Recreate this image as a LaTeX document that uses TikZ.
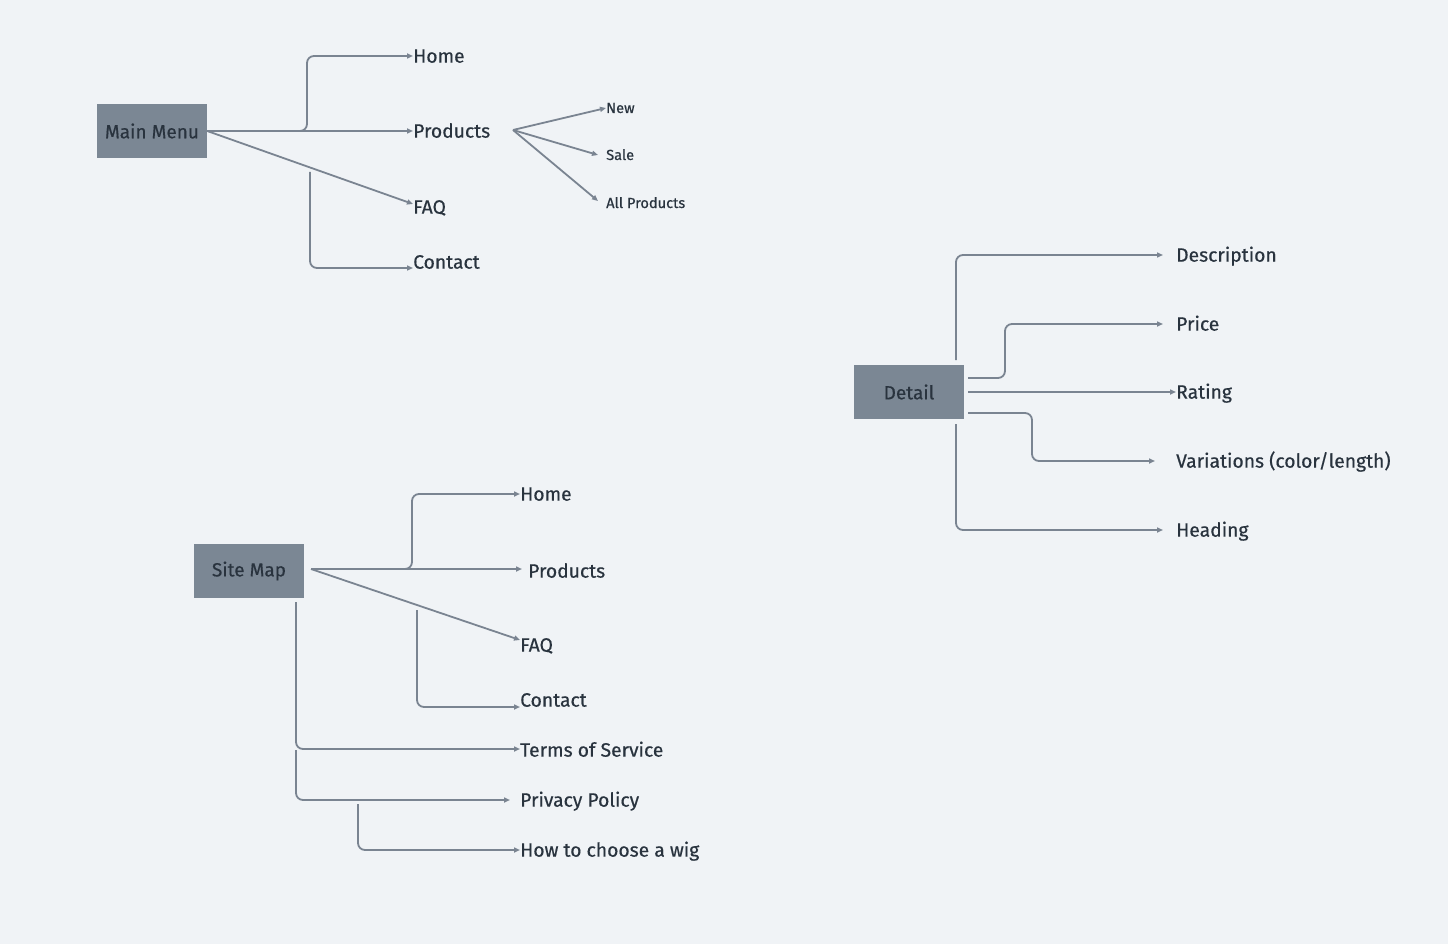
\documentclass[tikz,border=0pt]{standalone}
\usepackage{fontspec}
\setmainfont{Fira Sans}[FakeBold=0.5]
\usetikzlibrary{arrows.meta}
\definecolor{bg}{HTML}{F0F3F6}
\definecolor{boxc}{HTML}{7B8794}
\definecolor{linec}{HTML}{7A8491}
\definecolor{txt}{HTML}{29333E}
\begin{document}
\begin{tikzpicture}[x=1pt,y=-1pt,
 conn/.style={draw=linec, line width=1.8pt, rounded corners=7pt, -{Triangle[length=6pt,width=5pt]}},
 topic/.style={fill=boxc, minimum width=110pt, minimum height=54pt, inner sep=0pt, text=txt, font=\fontsize{19}{21}\selectfont},
 lbl/.style={anchor=west, inner sep=0pt, text=txt, font=\fontsize{19.3}{21}\selectfont, text height=13.3pt, text depth=0pt},
 sublbl/.style={lbl, font=\fontsize{14.6}{16}\selectfont, text height=10pt}]
\fill[bg] (0,0) rectangle (1448,944);
\useasboundingbox (0,0) rectangle (1448,944);

% Main Menu
\node[topic] (mm) at (152,131) {Main Menu};
\node[lbl] (mhome) at (413,56) {Home};
\node[lbl] (mprod) at (413,131) {Products};
\node[lbl] (mfaq) at (413,207) {FAQ};
\node[lbl] (mcont) at (413,262) {Contact};
\draw[conn] (mm.east) -| (307,56) -- (mhome.west);
\draw[conn] (mm.east) -- (mprod.west);
\draw[conn] (mm.east) -- ([yshift=3pt]mfaq.west);
\coordinate (mc0) at (310,172);
\draw[conn] (mc0) |- ([yshift=-6pt]mcont.west);

\coordinate (pf) at (513,130);
\node[sublbl] (pnew) at (606,108) {New};
\node[sublbl] (psale) at (606,155) {Sale};
\node[sublbl] (pall) at (606,203) {All Products};
\draw[conn] (pf) -- (pnew.west);
\draw[conn] (pf) -- ([xshift=-8pt]psale.west);
\draw[conn] (pf) -- ([xshift=-8pt,yshift=2pt]pall.west);

% Detail
\node[topic] (dt) at (909,392) {Detail};
\node[lbl] (ddesc) at (1176,255) {Description};
\node[lbl] (dprice) at (1176,324) {Price};
\node[lbl] (drate) at (1176,392) {Rating};
\node[lbl] (dvar) at (1176,461) {Variations (color/length)};
\node[lbl] (dhead) at (1176,530) {Heading};
\coordinate (d1) at (956,360);
\draw[conn] (d1) |- ([xshift=-13pt]ddesc.west);
\draw[conn] ([xshift=4pt,yshift=14pt]dt.east) -| (1005,324) -- ([xshift=-13pt]dprice.west);
\draw[conn] ([xshift=4pt]dt.east) -- (drate.west);
\draw[conn] ([xshift=4pt,yshift=-21pt]dt.east) -| (1032,461) -- ([xshift=-21pt]dvar.west);
\coordinate (d5) at (956,424);
\draw[conn] (d5) |- ([xshift=-13pt]dhead.west);

% Site Map
\node[topic] (sm) at (249,571) {Site Map};
\node[lbl] (shome) at (520,494) {Home};
\node[lbl] (sprod) at (528,571) {Products};
\node[lbl] (sfaq) at (520,645) {FAQ};
\node[lbl] (scont) at (520,700) {Contact};
\node[lbl] (sterms) at (520,750) {Terms of Service};
\node[lbl] (spriv) at (520,800) {Privacy Policy};
\node[lbl] (show) at (520,850) {How to choose a wig};
\coordinate (s0) at (311,569);
\draw[conn] (s0) -| (412,494) -- (shome.west);
\draw[conn] (s0) -- ([xshift=-6pt,yshift=2pt]sprod.west);
\draw[conn] (s0) -- ([yshift=5pt]sfaq.west);
\coordinate (s4) at (417,610);
\draw[conn] (s4) |- ([yshift=-7pt]scont.west);
\coordinate (s5) at (296,602);
\draw[conn] (s5) |- ([yshift=1pt]sterms.west);
\coordinate (s6) at (296,750);
\draw[conn] (s6) |- ([xshift=-10pt]spriv.west);
\coordinate (s7) at (358,804);
\draw[conn] (s7) |- (show.west);
\end{tikzpicture}
\end{document}
